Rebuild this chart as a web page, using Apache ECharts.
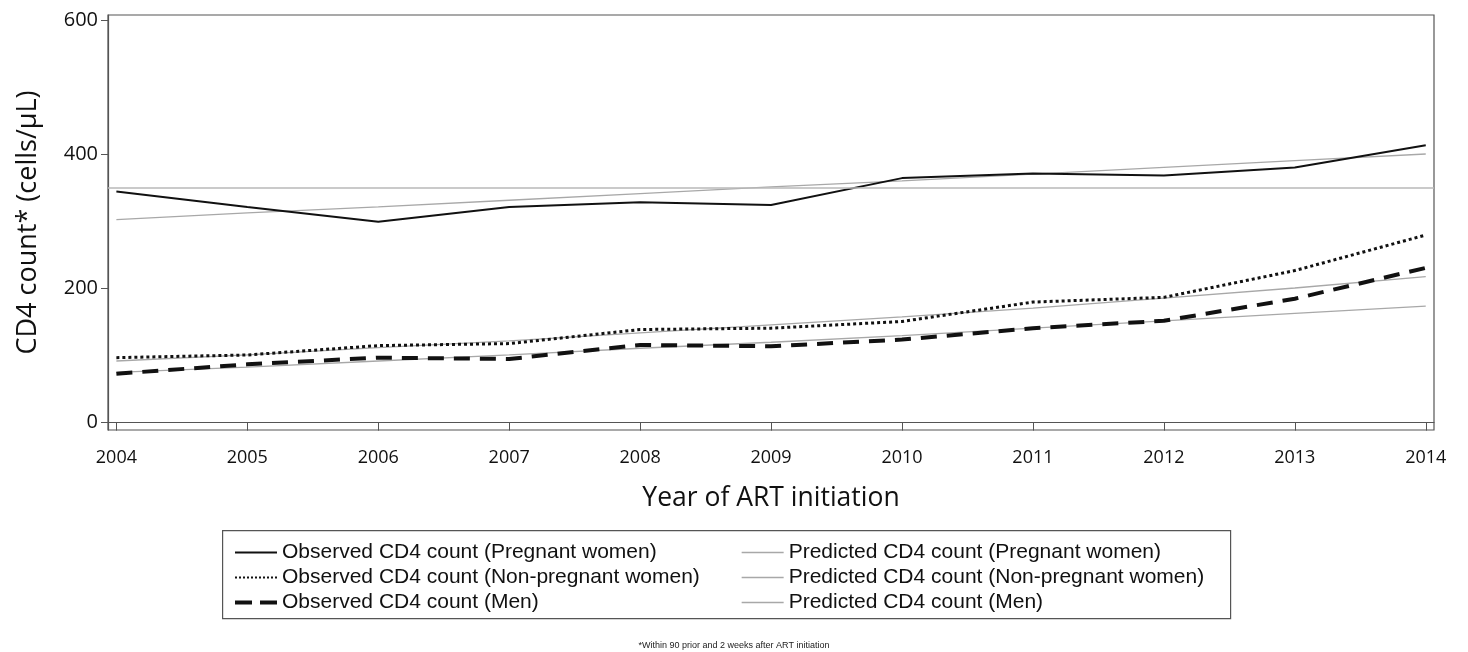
<!DOCTYPE html>
<html>
<head>
<meta charset="utf-8">
<script src="https://cdn.jsdelivr.net/npm/echarts@6/dist/echarts.min.js"></script>
<style>
  html, body { margin: 0; padding: 0; background: #fff; }
  #chart { width: 1468px; height: 652px; }
</style>
</head>
<body>
<div id="chart"></div>
<script>
//data
let years = [2004, 2005, 2006, 2007, 2008, 2009, 2010, 2011, 2012, 2013, 2014];
let yTicks = [0, 200, 400, 600];

let obsPregnant = [345, 322, 300, 322, 329, 325, 365, 372, 369, 381, 414];
let obsNonPregnant = [97, 101, 115, 118, 139, 141, 151, 180, 187, 227, 280];
let obsMen = [73, 87, 97, 95, 116, 114, 124, 141, 152, 185, 231];

let predPregnant = [303, 313, 322, 332, 342, 352, 361, 371, 381, 391, 401];
let predNonPregnant = [92, 101, 112, 122, 134, 146, 158, 171, 186, 201, 218];
let predMen = [75, 83, 92, 101, 111, 120, 130, 141, 152, 163, 174];

let refLine = 350;

let font = "'Open Sans', 'DejaVu Sans', sans-serif";
let legendFont = "'Liberation Sans', Arial, sans-serif";

//build [x, y] pairs
function pairs(vals) {
    let out = [];
    for (let i = 0; i < years.length; i++) {
        out.push([years[i], vals[i]]);
    }
    return out;
}

let chart = echarts.init(document.getElementById('chart'));

let obsNames = [
    "Observed CD4 count (Pregnant women)",
    "Observed CD4 count (Non-pregnant women)",
    "Observed CD4 count (Men)"
];
let predNames = [
    "Predicted CD4 count (Pregnant women)",
    "Predicted CD4 count (Non-pregnant women)",
    "Predicted CD4 count (Men)"
];

let obsStyles = [
    { color: '#111', width: 2, type: 'solid' },
    { color: '#111', width: 3, type: [3, 3] },
    { color: '#111', width: 4, type: [16, 10] }
];
let obsLegendStyles = [
    { color: '#111', width: 2, type: 'solid' },
    { color: '#111', width: 2, type: [2, 2] },
    { color: '#111', width: 4, type: [17, 8] }
];
let predStyle = { color: '#a8a8a8', width: 1.3, type: 'solid' };

function legendItems(names, styles) {
    let out = [];
    for (let i = 0; i < names.length; i++) {
        out.push({
            name: names[i],
            itemStyle: { opacity: 0 },
            lineStyle: styles[i]
        });
    }
    return out;
}

let option = {
    animation: false,
    backgroundColor: '#fff',
    grid: {
        left: 108, right: 34, top: 15, bottom: 222,
        show: true, borderColor: '#555', borderWidth: 1.2
    },
    xAxis: {
        type: 'value',
        min: 2003.936,
        max: 2014.063,
        name: 'Year of ART initiation',
        nameLocation: 'middle',
        nameGap: 55,
        nameTextStyle: { fontFamily: font, fontSize: 26.5, color: '#111' },
        splitLine: { show: false },
        axisLine: { show: true, lineStyle: { color: '#555', width: 1.2 } },
        axisTick: { show: true, length: 8, customValues: years, lineStyle: { color: '#555' } },
        axisLabel: {
            customValues: years,
            fontFamily: font, fontSize: 18, color: '#111', margin: 19,
            formatter: function (v) { return String(Math.round(v)); }
        }
    },
    yAxis: {
        type: 'value',
        min: -11,
        max: 608.5,
        name: 'CD4 count* (cells/µL)',
        nameLocation: 'middle',
        nameGap: 66,
        nameTextStyle: { fontFamily: font, fontSize: 27, color: '#111' },
        splitLine: { show: false },
        axisLine: { show: true, lineStyle: { color: '#555', width: 1.2 } },
        axisTick: { show: true, length: 7, customValues: yTicks, lineStyle: { color: '#555' } },
        axisLabel: {
            customValues: yTicks,
            fontFamily: font, fontSize: 20, color: '#111', margin: 10
        }
    },
    legend: [
        {
            orient: 'vertical', left: 228, top: 537,
            itemWidth: 42, itemHeight: 14, itemGap: 4,
            textStyle: { fontFamily: legendFont, fontSize: 21, color: '#111' },
            data: legendItems(obsNames, obsLegendStyles)
        },
        {
            orient: 'vertical', left: 736, top: 537,
            itemWidth: 42, itemHeight: 14, itemGap: 4,
            textStyle: { fontFamily: legendFont, fontSize: 21, color: '#111' },
            data: legendItems(predNames, [predStyle, predStyle, predStyle])
        }
    ],
    graphic: [
        {
            type: 'rect', left: 222, top: 530, z: -1,
            shape: { width: 1008, height: 88 },
            style: { fill: '#fff', stroke: '#555', lineWidth: 1.2 }
        },
        {
            type: 'text', left: 'center', top: 641,
            style: {
                text: '*Within 90 prior and 2 weeks after ART initiation',
                fontFamily: legendFont, fontSize: 9, fill: '#222'
            }
        }
    ],
    series: [
        {
            name: predNames[0], type: 'line', symbol: 'none', z: 2,
            data: pairs(predPregnant), lineStyle: predStyle, itemStyle: { color: '#a8a8a8' },
            markLine: {
                silent: true, symbol: 'none', label: { show: false },
                lineStyle: { color: '#b8b8b8', width: 1.5, type: 'solid' },
                data: [{ yAxis: refLine }]
            }
        },
        {
            name: predNames[1], type: 'line', symbol: 'none', z: 2,
            data: pairs(predNonPregnant), lineStyle: predStyle, itemStyle: { color: '#a8a8a8' }
        },
        {
            name: predNames[2], type: 'line', symbol: 'none', z: 2,
            data: pairs(predMen), lineStyle: predStyle, itemStyle: { color: '#a8a8a8' }
        },
        {
            name: obsNames[0], type: 'line', symbol: 'none', z: 3,
            data: pairs(obsPregnant), lineStyle: obsStyles[0], itemStyle: { color: '#111' }
        },
        {
            name: obsNames[1], type: 'line', symbol: 'none', z: 3,
            data: pairs(obsNonPregnant), lineStyle: obsStyles[1], itemStyle: { color: '#111' }
        },
        {
            name: obsNames[2], type: 'line', symbol: 'none', z: 3,
            data: pairs(obsMen), lineStyle: obsStyles[2], itemStyle: { color: '#111' }
        }
    ]
};

chart.setOption(option);
</script>
</body>
</html>
